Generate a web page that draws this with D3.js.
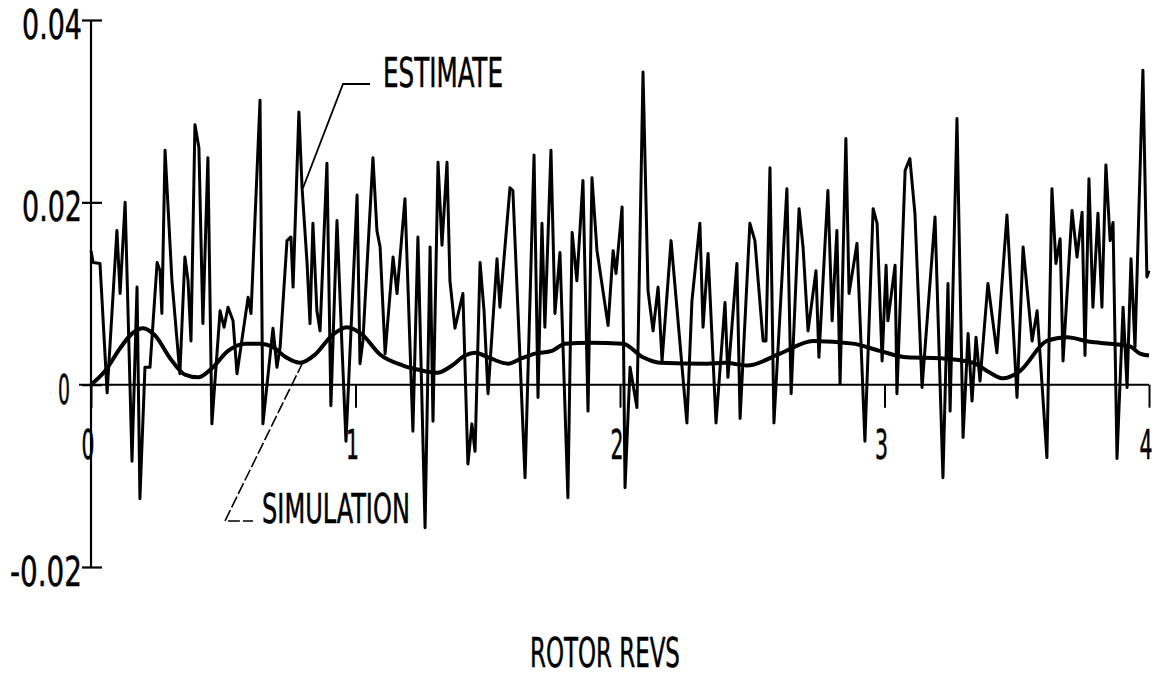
<!DOCTYPE html>
<html>
<head>
<meta charset="utf-8">
<script src="https://cdnjs.cloudflare.com/ajax/libs/d3/7.8.5/d3.min.js"></script>
<style>
  html, body { margin: 0; padding: 0; background: #fff; }
  svg { display: block; }
  text { font-family: "DejaVu Sans Condensed", "Liberation Sans Narrow", sans-serif; fill: #000; stroke: #000; stroke-width: 0.5; }
</style>
</head>
<body>
<svg id="chart" width="1157" height="678"></svg>
<script>
// ---- data ----
const estRevs = [0,0.008,0.034,0.061,0.098,0.110,0.129,0.155,0.174,0.185,
 0.204,0.223,0.250,0.261,0.268,0.280,0.306,0.336,0.355,0.367,
 0.378,0.393,0.408,0.423,0.442,0.457,0.488,0.503,0.518,0.537,
 0.552,0.594,0.605,0.639,0.650,0.688,0.703,0.715,0.741,0.756,
 0.764,0.786,0.798,0.817,0.828,0.839,0.854,0.866,0.892,0.907,
 0.930,0.949,0.964,1.006,1.017,1.028,1.066,1.081,1.093,1.112,
 1.142,1.157,1.187,1.217,1.236,1.263,1.282,1.293,1.312,1.327,
 1.346,1.357,1.376,1.406,1.425,1.440,1.452,1.471,1.486,1.501,
 1.535,1.546,1.584,1.595,1.641,1.675,1.690,1.705,1.716,1.739,
 1.754,1.773,1.803,1.819,1.837,1.860,1.879,1.894,1.913,1.955,
 1.974,1.985,2.008,2.019,2.038,2.064,2.087,2.106,2.125,2.144,
 2.159,2.193,2.253,2.272,2.302,2.314,2.333,2.363,2.397,2.408,
 2.442,2.454,2.491,2.510,2.541,2.552,2.567,2.582,2.631,2.647,
 2.677,2.692,2.711,2.741,2.752,2.786,2.802,2.820,2.832,2.854,
 2.866,2.896,2.926,2.957,2.972,2.991,3.006,3.013,3.040,3.047,
 3.078,3.096,3.115,3.142,3.191,3.221,3.240,3.248,3.274,3.297,
 3.316,3.331,3.346,3.361,3.391,3.425,3.463,3.501,3.524,3.558,
 3.577,3.614,3.633,3.648,3.664,3.675,3.709,3.728,3.747,3.758,
 3.773,3.788,3.807,3.822,3.837,3.853,3.864,3.879,3.902,3.917,
 3.932,3.947,3.977,3.992,4.000];
const estValues = [0.0147,0.0134,0.0133,-0.0009,0.0169,0.0100,0.0200,-0.0084,0.0107,-0.0125,
 0.0019,0.0019,0.0134,0.0125,0.0078,0.0257,0.0114,0.0012,0.0140,0.0114,
 0.0048,0.0285,0.0260,0.0067,0.0249,-0.0043,0.0081,0.0063,0.0085,0.0070,
 0.0012,0.0096,0.0078,0.0312,-0.0043,0.0062,0.0019,0.0041,0.0158,0.0162,
 0.0107,0.0299,0.0216,0.0133,0.0067,0.0177,0.0081,0.0059,0.0243,-0.0023,
 0.0180,0.0041,-0.0062,0.0208,0.0023,0.0048,0.0249,0.0169,0.0151,0.0034,
 0.0140,0.0100,0.0204,-0.0051,0.0162,-0.0157,0.0151,-0.0040,0.0244,0.0153,
 0.0244,0.0114,0.0062,0.0100,-0.0087,-0.0043,-0.0073,0.0134,0.0081,-0.0010,
 0.0138,0.0085,0.0216,0.0213,-0.0102,0.0252,-0.0014,0.0177,0.0063,0.0257,
 0.0078,0.0145,-0.0124,0.0167,0.0114,0.0224,-0.0029,0.0227,0.0147,0.0065,
 0.0147,0.0122,0.0195,-0.0113,0.0019,-0.0025,0.0343,0.0103,0.0059,0.0107,
 0.0026,0.0158,-0.0042,0.0092,0.0177,0.0063,0.0144,-0.0042,0.0090,0.0008,
 0.0133,-0.0037,0.0177,0.0158,0.0048,0.0048,0.0238,-0.0042,0.0215,-0.0010,
 0.0193,0.0151,0.0059,0.0125,0.0030,0.0213,0.0070,0.0169,0.0001,0.0270,
 0.0100,0.0155,-0.0062,0.0193,0.0177,0.0026,0.0131,0.0070,0.0131,-0.0010,
 0.0235,0.0248,0.0188,-0.0003,0.0184,-0.0102,0.0111,-0.0029,0.0292,-0.0058,
 0.0056,-0.0018,0.0052,0.0004,0.0111,0.0035,0.0186,-0.0014,0.0151,0.0048,
 0.0081,-0.0080,0.0215,0.0133,0.0160,0.0026,0.0191,0.0140,0.0189,0.0032,
 0.0226,0.0085,0.0188,0.0085,0.0241,0.0158,0.0178,-0.0081,0.0085,-0.0003,
 0.0138,0.0041,0.0345,0.0118,0.0125];

const simRevs = [0,0.053,0.110,0.155,0.197,0.242,0.299,0.355,0.405,0.457,
 0.518,0.582,0.639,0.684,0.737,0.790,0.847,0.911,0.968,1.025,
 1.093,1.180,1.244,1.308,1.365,1.414,1.452,1.509,1.577,1.629,
 1.679,1.743,1.792,1.887,2.011,2.087,2.151,2.329,2.397,2.480,
 2.605,2.730,2.881,2.983,3.085,3.210,3.335,3.399,3.448,3.512,
 3.614,3.690,3.777,3.853,3.928,3.966,4.0];
const simValues = [0,0.0015,0.0040,0.0056,0.0062,0.0054,0.0029,0.0011,0.0008,0.0018,
 0.0037,0.0045,0.0045,0.0042,0.0030,0.0024,0.0033,0.0054,0.0063,0.0055,
 0.0033,0.0021,0.0016,0.0013,0.0021,0.0032,0.0035,0.0029,0.0023,0.0029,
 0.0034,0.0037,0.0045,0.0046,0.0045,0.0030,0.0024,0.0023,0.0024,0.0021,
 0.0034,0.0048,0.0045,0.0037,0.0030,0.0029,0.0024,0.0013,0.0007,0.0015,
 0.0048,0.0052,0.0047,0.0045,0.0042,0.0034,0.0032];

const yTicks = [-0.02, 0, 0.02, 0.04];
const yTickLabels = ["-0.02", "0", "0.02", "0.04"];
const xTicks = [0, 1, 2, 3, 4];
const xTickLabels = ["0", "1", "2", "3", "4"];
const xTitle = "ROTOR REVS";
const estimateLabel = "ESTIMATE";
const simulationLabel = "SIMULATION";

// ---- layout ----
const svg = d3.select("#chart");
const x = d3.scaleLinear().domain([0, 4]).range([91, 1149]);
const y = d3.scaleLinear().domain([-0.02, 0.04]).range([567, 20]);

const est = d3.zip(estRevs, estValues);
const sim = d3.zip(simRevs, simValues);

// place a text so that it spans a given width (condensed plotter lettering)
function fitText(sel, px, py, width, anchor, size) {
  sel.attr("x", 0).attr("y", 0).attr("font-size", size).attr("text-anchor", anchor);
  const w = sel.node().getComputedTextLength();
  const s = w > 0 ? width / w : 1;
  sel.attr("transform", `translate(${px},${py}) scale(${s},1)`);
}

// zero line (x axis)
svg.append("line")
  .attr("x1", x(0) - 12).attr("x2", x(4))
  .attr("y1", y(0)).attr("y2", y(0))
  .attr("stroke", "#000").attr("stroke-width", 2);

// y axis
const yAxis = d3.axisLeft(y).tickValues(yTicks).tickSize(10).tickFormat(() => "");
const gy = svg.append("g").attr("transform", `translate(${x(0)},0)`).call(yAxis);
gy.select(".domain").attr("stroke", "#000").attr("stroke-width", 2.2).attr("d", `M0,${y(0.04)}V${y(-0.02)}`);
gy.selectAll(".tick line").attr("stroke", "#000").attr("stroke-width", 2.2)
  .attr("x1", -9).attr("x2", 11);

// x axis ticks (downward)
const xAxis = d3.axisBottom(x).tickValues(xTicks).tickSize(23).tickFormat(() => "");
const gx = svg.append("g").attr("transform", `translate(0,${y(0)})`).call(xAxis);
gx.select(".domain").remove();
gx.selectAll(".tick line").attr("stroke", "#000").attr("stroke-width", 2);

// y tick labels
const yLab = svg.append("g");
yTicks.forEach((d, i) => {
  const t = yLab.append("text").text(yTickLabels[i]);
  const w = d === 0 ? 12 : (yTickLabels[i].startsWith("-") ? 72 : 60);
  fitText(t, d === 0 ? 70 : 82, y(d) + 19, w, "end", 40);
});

// x tick labels
const xLab = svg.append("g");
xTicks.forEach((d, i) => {
  const t = xLab.append("text").text(xTickLabels[i]);
  fitText(t, x(d) - 3, y(0) + 74, 13, "middle", 40);
});

// estimate line
svg.append("path")
  .datum(est)
  .attr("fill", "none")
  .attr("stroke", "#000")
  .attr("stroke-width", 3)
  .attr("stroke-linejoin", "round")
  .attr("d", d3.line().x(d => x(d[0])).y(d => y(d[1])));

// simulation line
svg.append("path")
  .datum(sim)
  .attr("fill", "none")
  .attr("stroke", "#000")
  .attr("stroke-width", 4)
  .attr("stroke-linejoin", "round")
  .attr("d", d3.line().curve(d3.curveMonotoneX).x(d => x(d[0])).y(d => y(d[1])));

// annotations
svg.append("path")
  .attr("d", "M370,84 H343 L303,188")
  .attr("fill", "none").attr("stroke", "#000").attr("stroke-width", 1.8);
fitText(svg.append("text").text(estimateLabel), 383, 87, 120, "start", 40);

svg.append("path")
  .attr("d", "M303,362 L225,521 H253")
  .attr("fill", "none").attr("stroke", "#000").attr("stroke-width", 1.6)
  .attr("stroke-dasharray", "12,3");
fitText(svg.append("text").text(simulationLabel), 262, 523, 148, "start", 40);

// axis title
fitText(svg.append("text").text(xTitle), 530, 667, 150, "start", 40);
</script>
</body>
</html>
